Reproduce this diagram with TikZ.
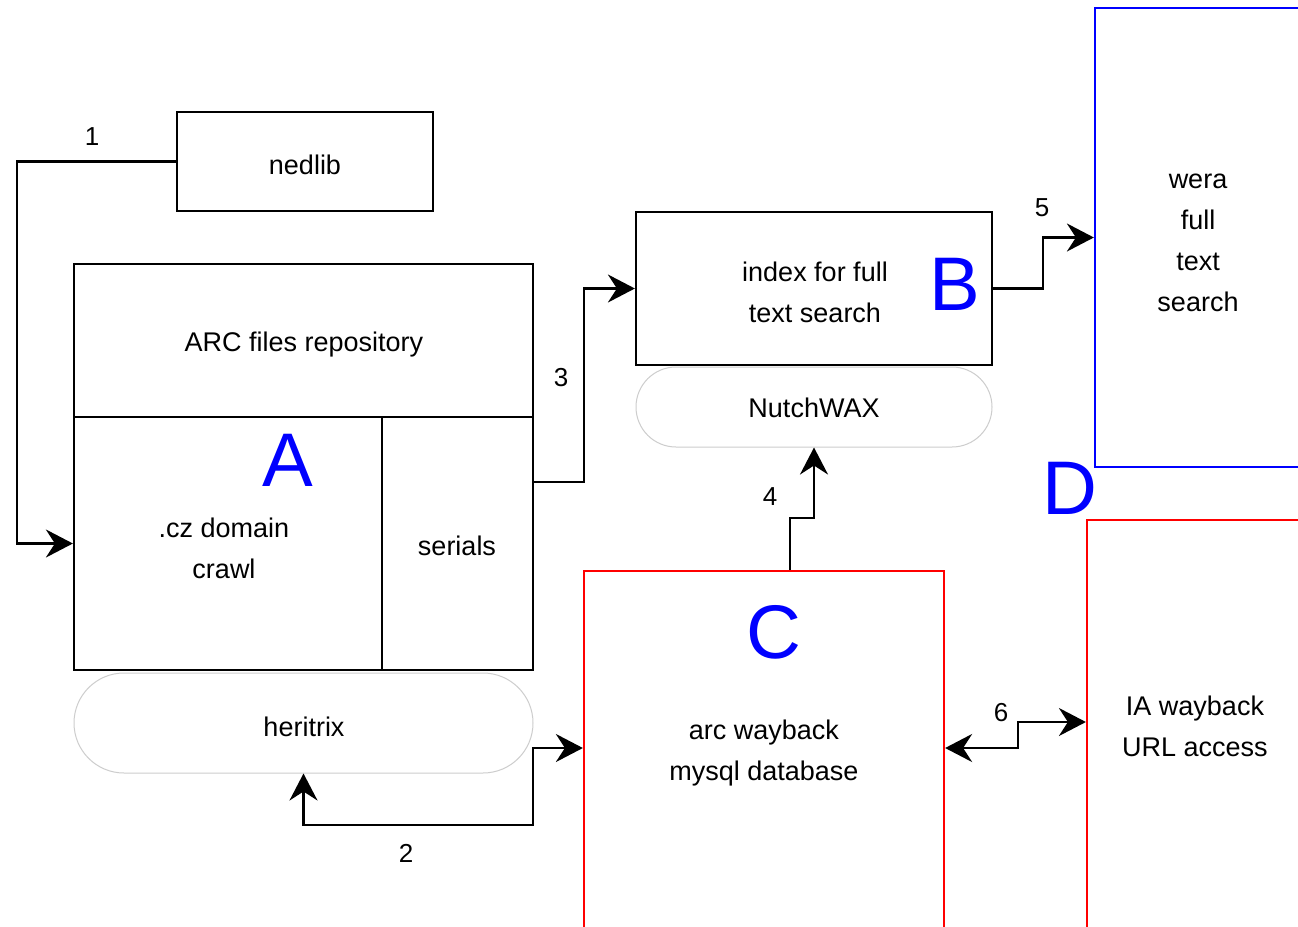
\documentclass[tikz,border=0pt]{standalone}
\usepackage{fontspec}
\setmainfont{Liberation Sans}
\usetikzlibrary{arrows.meta}
\definecolor{stadgray}{RGB}{205,205,205}
\definecolor{lblue}{RGB}{0,0,255}
\definecolor{lred}{RGB}{255,0,0}
\begin{document}
\begin{tikzpicture}[x=1pt,y=-1pt,
  every node/.style={font=\fontsize{27}{41}\selectfont, align=center, inner sep=0pt},
  box/.style={draw=black, line width=2.2pt, fill=none},
  redbox/.style={draw=lred, line width=2.2pt},
  bluebox/.style={draw=lblue, line width=2.2pt},
  stadium/.style={draw=stadgray, line width=1pt, rounded corners=#1},
  bigletter/.style={text=lblue, font=\fontsize{76}{80}\selectfont},
  numlabel/.style={font=\fontsize{26}{30}\selectfont},
  conn/.style={line width=2.4pt, draw=black},
  arr/.style={conn, -{Stealth[length=27pt,width=28pt,inset=9pt]}},
  arrboth/.style={conn, {Stealth[length=27pt,width=28pt,inset=9pt]}-{Stealth[length=27pt,width=28pt,inset=9pt]}}
]
\clip (0,0) rectangle (1298,926);
\fill[white] (0,0) rectangle (1298,926);

% nedlib
\node[box, minimum width=256, minimum height=99] (nedlib) at (305,161.5) {};
\node (nedlibtext) at (305,165) {nedlib};

% ARC repository group
\node[box, minimum width=459, minimum height=153] (repo) at (303.5,340.5) {};
\node (repotext) at (304,345) {ARC files repository};
\node[box, minimum width=308, minimum height=253] (dom) at (228,543.5) {};
\node (domtext) at (224,548) {.cz domain\\crawl};
\node[box, minimum width=151, minimum height=253] (serials) at (457.5,543.5) {};
\node (serialstext) at (457,546) {serials};
\node[bigletter] (A) at (288,460) {A};

% heritrix
\node[stadium=50, minimum width=459, minimum height=100] (heritrix) at (303.5,723) {};
\node (heritrixtext) at (304,727) {heritrix};

% index B
\node[box, minimum width=356, minimum height=153] (idx) at (814,288.5) {};
\node (idxtext) at (815,292) {index for full\\text search};
\node[bigletter] (B) at (955,284) {B};

% NutchWAX
\node[stadium=40, minimum width=356, minimum height=80] (nutch) at (814,407) {};
\node (nutchtext) at (814,408) {NutchWAX};

% wera (blue)
\node[bluebox, minimum width=206, minimum height=459] (wera) at (1198,237.5) {};
\node (weratext) at (1198,243) {wera\\full\\text\\search};
\node[bigletter] (D) at (1070,488) {D};

% C box (red)
\node[redbox, minimum width=360, minimum height=362] (cbox) at (764,752) {};
\node (ctext) at (764,753) {arc wayback\\mysql database};
\node[bigletter] (C) at (774,632) {C};

% IA box (red)
\node[redbox, minimum width=216, minimum height=412] (ia) at (1195,726) {};
\node (iatext) at (1195,726) {IA wayback\\URL access};

% connectors
\draw[arr] (nedlib.west) -- (17,161.5) |- (dom.west);
\node[numlabel] (l1) at (92,137) {1};

\draw[arrboth] (heritrix.south) -- (303.5,825) -| (533,748) -- (cbox.west |- 0,748);
\node[numlabel] (l2) at (406,853) {2};

\draw[arr] (serials.east |- 0,482) -- (584,482) |- (idx.west);
\node[numlabel] (l3) at (561,378) {3};

\draw[arr] (cbox.north -| 790,0) -- (790,518) -| (nutch.south);
\node[numlabel] (l4) at (770,497) {4};

\draw[arr] (idx.east) -- (1043,288.5) |- (wera.west);
\node[numlabel] (l5) at (1042,208) {5};

\draw[arrboth] (cbox.east |- 0,748) -- (1018,748) |- (ia.west |- 0,722);
\node[numlabel] (l6) at (1001,713) {6};
\end{tikzpicture}
\end{document}
